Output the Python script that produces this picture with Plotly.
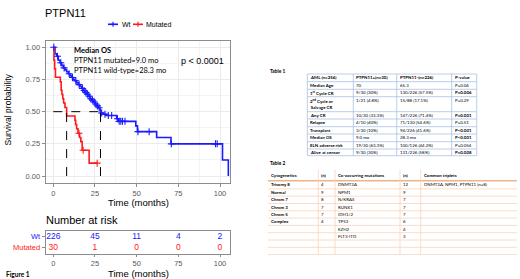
import plotly.graph_objects as go

W, H = 520, 279


def PX(x):
    return x / W


def PY(y):
    return 1 - y / H


# ---------------- data ----------------
wt_time = [0, 1, 2, 3, 4, 5, 6, 7, 8, 9, 10, 11, 12, 13, 14, 15, 16, 17, 18, 19, 20,
           21, 22, 23, 24, 25, 26, 27, 28, 28.3, 30, 32, 38, 39, 49.5, 50.5, 62, 70.6, 101.5, 105]
wt_surv = [1.0, 0.95, 0.93, 0.90, 0.88, 0.86, 0.84, 0.825, 0.81, 0.795, 0.78, 0.765, 0.75,
           0.74, 0.725, 0.71, 0.695, 0.68, 0.665, 0.65, 0.635, 0.62, 0.60, 0.59, 0.575, 0.56,
           0.545, 0.53, 0.515, 0.49, 0.48, 0.47, 0.445, 0.425, 0.39, 0.345, 0.30, 0.25, 0.125, 0.0]
wt_censor = [0.3, 2.5, 4.5, 6.5, 9.5, 11.5, 13.5, 15.5, 17.5, 18.5, 19.5, 20.5, 21.5, 22.5,
             23.5, 24.5, 25.5, 26.5, 27.5, 29, 31, 33, 35, 38.5, 39.5, 40.5, 41.5, 43, 50.8,
             57.5, 70.8, 97.3, 98.3]

mut_time = [0, 0.4, 0.8, 1.3, 4.2, 4.7, 5.2, 5.7, 6.2, 7.0, 8.0, 13.0, 13.4, 14.0, 14.8,
            15.8, 16.5, 17.3, 21.5, 26.8]
mut_surv = [1.0, 0.90, 0.833, 0.767, 0.733, 0.667, 0.633, 0.60, 0.567, 0.533, 0.467, 0.433,
            0.40, 0.367, 0.333, 0.30, 0.267, 0.20, 0.10, 0.10]
mut_censor = [15.4, 17.9, 26.3]

median_mut_line = 8.0
median_wt_line = 28.3

risk_times = [0, 25, 50, 75, 100]
risk_wt = [226, 45, 11, 4, 2]
risk_mut = [30, 1, 0, 0, 0]

x_ticks = [0, 25, 50, 75, 100]
y_ticks = [0, 0.25, 0.5, 0.75, 1.0]
y_ticklabels = ["0.00", "0.25", "0.50", "0.75", "1.00"]

t1_header = ["AML (n=256)", "PTPN11+(n=30)", "PTPN11-(n=226)", "P-value"]
t1_label = ["Median Age", "1<sup>st</sup> Cycle CR", "2<sup>nd</sup> Cycle or<br>Salvage CR",
            "Any CR", "Relapse", "Transplant", "Median OS", "ELN adverse risk", "Alive at censor"]
t1_mut = ["70", "9/30 (30%)", "1/21 (4.8%)", "10/30 (33.3%)", "4/10 (40%)", "3/30 (10%)",
          "9.0 mo", "19/30 (63.3%)", "9/30 (30%)"]
t1_wt = ["65.3", "130/226 (57.5%)", "15/88 (17.1%)", "147/226 (71.4%)", "71/130 (54.6%)",
         "94/226 (41.6%)", "28.3 mo", "100/126 (44.2%)", "131/226 (58%)"]
t1_p = ["P=0.06", "P=0.006", "P=0.29", "P=0.001", "P=0.51", "P<0.001", "P<0.001", "P=0.054",
        "P=0.008"]
t1_p_bold = [False, True, False, True, False, True, True, False, True]

t2_header = ["Cytogenetics", "(n)", "Co-occurring mutations", "(n)", "Common triplets"]
t2_cyto = ["Trisomy 8", "Normal", "Chrom 7", "Chrom 3", "Chrom 5", "Complex", "", "", "", ""]
t2_cyto_n = ["4", "9", "8", "7", "7", "4", "", "", "", ""]
t2_mut = ["DNMT3A", "NPM1", "N/KRAS", "RUNX1", "IDH1/2", "TP53", "EZH2", "FLT3-ITD", "", ""]
t2_mut_n = ["12", "9", "7", "7", "7", "6", "4", "3", "", ""]
t2_trip = ["DNMT3A, NPM1, PTPN11 (n=8)", "", "", "", "", "", "", "", "", ""]

# ---------------- helpers ----------------
BLUE = "#1a1aff"
RED = "#ff1a1a"
ARIAL = "Liberation Sans"
CAL = "Lato"


def surv_at(times, survs, t):
    s = survs[0]
    for tt, ss in zip(times, survs):
        if tt <= t:
            s = ss
    return s


fig = go.Figure()

# KM curves
fig.add_trace(go.Scatter(x=wt_time, y=wt_surv, mode="lines", line=dict(color=BLUE, width=1.6, shape="hv"),
                         xaxis="x", yaxis="y", hoverinfo="skip"))
fig.add_trace(go.Scatter(x=mut_time, y=mut_surv, mode="lines", line=dict(color=RED, width=1.6, shape="hv"),
                         xaxis="x", yaxis="y", hoverinfo="skip"))
fig.add_trace(go.Scatter(x=wt_censor, y=[surv_at(wt_time, wt_surv, t) for t in wt_censor], mode="markers",
                         marker=dict(symbol="cross-thin", size=5, line=dict(width=1.1, color=BLUE)),
                         xaxis="x", yaxis="y", hoverinfo="skip"))
fig.add_trace(go.Scatter(x=mut_censor, y=[surv_at(mut_time, mut_surv, t) for t in mut_censor], mode="markers",
                         marker=dict(symbol="cross-thin", size=5, line=dict(width=1.1, color=RED)),
                         xaxis="x", yaxis="y", hoverinfo="skip"))

# risk table numbers
fig.add_trace(go.Scatter(x=risk_times, y=[1] * len(risk_times), mode="text", text=[str(v) for v in risk_wt],
                         textfont=dict(color=BLUE, size=8.5, family=ARIAL), xaxis="x2", yaxis="y2",
                         hoverinfo="skip"))
fig.add_trace(go.Scatter(x=risk_times, y=[0] * len(risk_times), mode="text", text=[str(v) for v in risk_mut],
                         textfont=dict(color=RED, size=8.5, family=ARIAL), xaxis="x2", yaxis="y2",
                         hoverinfo="skip"))

shapes = []
annotations = []

# median dashed lines
dash = dict(color="black", width=1, dash="dash")
shapes.append(dict(type="line", xref="x", yref="y", x0=0, x1=median_wt_line, y0=0.5, y1=0.5, line=dash))
shapes.append(dict(type="line", xref="x", yref="y", x0=median_mut_line, x1=median_mut_line, y0=0, y1=0.5, line=dash))
shapes.append(dict(type="line", xref="x", yref="y", x0=median_wt_line, x1=median_wt_line, y0=0, y1=0.5, line=dash))


def ann(x, y, text, size, color="black", family=ARIAL, xanchor="left", yanchor="middle", angle=0):
    annotations.append(dict(x=PX(x), y=PY(y), xref="paper", yref="paper", text=text, showarrow=False,
                            font=dict(size=size, color=color, family=family), xanchor=xanchor,
                            yanchor=yanchor, textangle=angle, borderpad=0))


def pline(x0, y0, x1, y1, color, width=1):
    shapes.append(dict(type="line", xref="paper", yref="paper", x0=PX(x0), y0=PY(y0), x1=PX(x1), y1=PY(y1),
                       line=dict(color=color, width=width)))


# title / legend
ann(44, 13, "PTPN11", 11)
pline(108, 24.3, 118, 24.3, BLUE, 1.6)
pline(113, 21.8, 113, 26.8, BLUE, 1.1)
pline(110.5, 24.3, 115.5, 24.3, BLUE, 1.1)
ann(120.5, 24.3, "Wt", 7)
pline(133, 24.3, 143, 24.3, RED, 1.6)
pline(138, 21.8, 138, 26.8, RED, 1.1)
ann(145, 24.3, "Mutated", 7)

# in-plot texts
ann(72.5, 50, "<b>Median OS</b>", 7.5, family=CAL)
ann(72.5, 60.5, "PTPN11 mutated=9.0 mo", 7.5, family=CAL)
ann(72.5, 70.5, "PTPN11 wild-type=28.3 mo", 7.5, family=CAL)
ann(180, 61, "p &lt; 0.0001", 9)

# axis titles
ann(7.5, 110, "Survival probability", 8.5, angle=-90, xanchor="center")
ann(138, 202, "Time (months)", 9.5, xanchor="center")
ann(45, 219.5, "Number at risk", 11)
ann(138, 273.5, "Time (months)", 9.5, xanchor="center")
ann(5, 274, "<b>Figure 1</b>", 6.5, family=CAL)

# ---------------- Table 1 ----------------
T1C = "#a8c0e4"
t1_cols = [307.3, 353.3, 396.7, 451.7, 476.7]
t1_rows = [74, 81.7, 89.3, 96.7, 111.7, 119, 126.7, 134, 141.7, 149, 155.7]
ann(269, 70.5, "<b>Table 1</b>", 4.8, family=CAL)
for y in t1_rows:
    pline(t1_cols[0], y, t1_cols[-1], y, T1C, 0.8)
for x in t1_cols:
    pline(x, t1_rows[0], x, t1_rows[-1], T1C, 0.8)
TS = 4.4
for j, h in enumerate(t1_header):
    ann(t1_cols[j] + 2, (t1_rows[0] + t1_rows[1]) / 2, "<b>%s</b>" % h, TS, family=CAL)
for i in range(len(t1_label)):
    top, bot = t1_rows[i + 1], t1_rows[i + 2]
    multi = (bot - top) > 10
    yc = top + 3.8 if multi else (top + bot) / 2
    if multi:
        ann(t1_cols[0] + 2, top + 0.6, "<b>%s</b>" % t1_label[i], TS, family=CAL, yanchor="top")
    else:
        ann(t1_cols[0] + 2, yc, "<b>%s</b>" % t1_label[i], TS, family=CAL)
    ann(t1_cols[1] + 2, yc, t1_mut[i], TS, family=CAL)
    ann(t1_cols[2] + 2, yc, t1_wt[i], TS, family=CAL)
    ptxt = "<b>%s</b>" % t1_p[i] if t1_p_bold[i] else t1_p[i]
    ann(t1_cols[3] + 2, yc, ptxt, TS, family=CAL)

# ---------------- Table 2 ----------------
T2C = "#f9d3bb"
T2H = "#f4b183"
t2_cols = [268, 318.3, 335, 400, 420.7, 517]
t2_rows = [169.5, 180.7, 188.9, 196.2, 203.5, 210.8, 218.1, 225.4, 232.7, 240, 247.3, 254.6]
ann(269, 162.5, "<b>Table 2</b>", 4.8, family=CAL)
for k, y in enumerate(t2_rows):
    if k == 1:
        pline(t2_cols[0], y, t2_cols[-1], y, T2H, 1.6)
    elif k > 0:
        pline(t2_cols[0], y, t2_cols[-1], y, T2C, 0.8)
for x in t2_cols[1:-1]:
    pline(x, t2_rows[0], x, t2_rows[-1], T2C, 0.8)
for j, h in enumerate(t2_header):
    ann(t2_cols[j] + 2, (t2_rows[0] + t2_rows[1]) / 2, "<b>%s</b>" % h, TS, family=CAL)
for i in range(len(t2_cyto)):
    yc = (t2_rows[i + 1] + t2_rows[i + 2]) / 2
    vals = [t2_cyto[i], t2_cyto_n[i], t2_mut[i], t2_mut_n[i], t2_trip[i]]
    for j, v in enumerate(vals):
        if v:
            txt = "<b>%s</b>" % v if j == 0 else v
            ann(t2_cols[j] + 2, yc, txt, TS, family=CAL)

# ---------------- layout ----------------
x_dom = [PX(45.7), PX(230)]
x_rng = [-4.56, 106]
axis_common = dict(showline=True, mirror=True, linecolor="#8c8c8c", linewidth=1, ticks="outside",
                   tickcolor="#8c8c8c", zeroline=False,
                   tickfont=dict(size=7.5, color="#595959", family=ARIAL))

fig.update_layout(
    width=W, height=H, margin=dict(l=0, r=0, t=0, b=0), showlegend=False,
    paper_bgcolor="white", plot_bgcolor="white",
    xaxis=dict(domain=x_dom, range=x_rng, tickvals=x_ticks, anchor="y", showgrid=True, gridcolor="#ebebeb",
               gridwidth=1, ticklen=3,
               minor=dict(dtick=12.5, tick0=0, showgrid=True, gridcolor="#f4f4f4", ticks=""),
               **axis_common),
    yaxis=dict(domain=[PY(183), PY(41)], range=[-0.054, 1.049], tickvals=y_ticks, ticktext=y_ticklabels,
               anchor="x", showgrid=True, gridcolor="#ebebeb", gridwidth=1, ticklen=3,
               minor=dict(dtick=0.125, tick0=0, showgrid=True, gridcolor="#f4f4f4", ticks=""),
               **axis_common),
    xaxis2=dict(domain=x_dom, range=x_rng, tickvals=x_ticks, anchor="y2", showgrid=False, ticklen=2,
                **axis_common),
    yaxis2=dict(domain=[PY(254), PY(231)], range=[-0.55, 1.5], tickvals=[0, 1], ticklen=3,
                ticktext=["<span style='color:%s'>Mutated</span>" % RED,
                          "<span style='color:%s'>Wt</span>" % BLUE],
                anchor="x2", showgrid=False, **axis_common),
    shapes=shapes, annotations=annotations,
)

fig.write_html("out.html", config={"displayModeBar": False},
               post_script="document.body.style.margin='0px';document.body.style.overflow='hidden';")
